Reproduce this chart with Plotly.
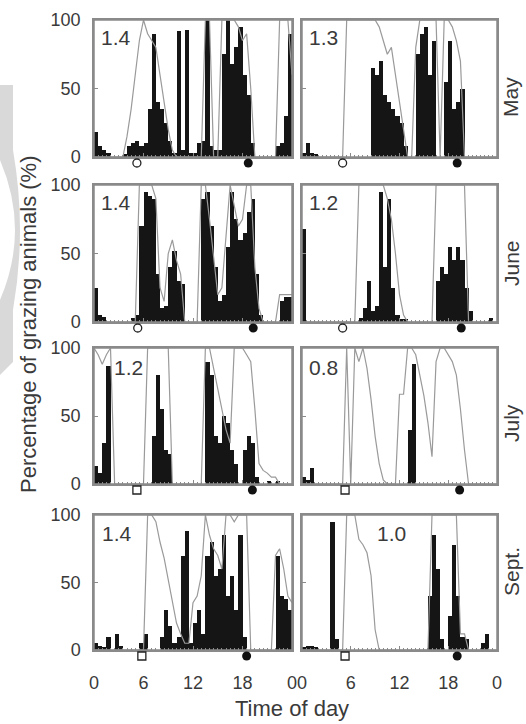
import plotly.graph_objects as go

# ---------------- data ----------------
bin_hours = [i * 0.5 + 0.25 for i in range(48)]   # half-hour bins
line_hours = [i * 0.5 for i in range(49)]          # half-hour points 0..24

months = ["May", "June", "July", "Sept."]
panel_numbers = ["1.4", "1.3", "1.4", "1.2", "1.2", "0.8", "1.4", "1.0"]
sunrise = [5.2, 5.0, 5.3, 5.0, 5.2, 5.3, 5.8, 5.3]
sunset = [18.7, 19.1, 19.3, 19.6, 19.2, 19.4, 18.5, 19.1]
x_tick_labels = ["0", "6", "12", "18", "0"]
y_tick_values = [0, 50, 100]

may_left_black = [18, 8, 5, 3, 0, 0, 0, 2, 8, 10, 12, 8, 10, 35, 90, 40, 35, 25, 12, 3,
                  92, 5, 93, 3, 3, 10, 12, 100, 8, 5, 5, 75, 100, 68, 80, 95, 60, 45, 10, 0,
                  0, 0, 0, 0, 8, 10, 30, 90]
may_left_gray = [0, 0, 0, 0, 0, 0, 0, 0, 15, 35, 60, 85, 100, 90, 85, 80, 60, 40, 20, 5,
                 0, 0, 0, 0, 0, 0, 0, 100, 100, 0, 0, 100, 100, 100, 100, 95, 85, 90, 50, 0,
                 0, 0, 0, 0, 0, 100, 100, 100, 60]

may_right_black = [3, 10, 3, 2, 0, 0, 0, 0, 0, 0, 0, 0, 0, 0, 0, 0, 0,
                   65, 60, 70, 45, 40, 35, 30, 25, 8, 0, 0,
                   75, 90, 95, 60, 85, 0, 0, 55, 85, 35, 40, 50,
                   0, 0, 0, 0, 0, 0, 0, 0]
may_right_gray = [0, 0, 0, 0, 0, 0, 0, 0, 0, 0, 0,
                  100, 100, 100, 100, 100, 100, 100, 100,
                  95, 85, 75, 80, 60, 40, 20, 0, 0,
                  80, 100, 100, 100, 100, 100, 0, 100, 100, 95, 85, 70,
                  0, 0, 0, 0, 0, 0, 0, 0, 0]

june_left_black = [25, 5, 4, 0, 0, 0, 0, 0, 0,
                   3, 5, 70, 95, 92, 90, 35, 10, 12, 40, 52, 30, 28,
                   0, 0, 0, 0,
                   90, 95, 70, 40, 15, 20, 55, 95, 75, 60, 65, 80, 90, 35,
                   5, 0, 0, 0, 0, 15, 18, 18]
june_left_gray = [0, 0, 0, 0, 0, 0, 0, 0, 0, 0, 0,
                  100, 100, 100, 100, 90, 25, 15, 50, 60, 45, 35,
                  0, 0, 0, 0,
                  100, 100, 75, 45, 20, 25, 65, 100, 85, 70, 75, 100, 100, 40, 10,
                  0, 0, 0, 0, 20, 20, 20, 20]

june_right_black = [68, 0, 0, 0, 0, 0, 0, 0, 0, 0, 0, 0, 0, 0,
                    3, 10, 30, 8, 12, 95, 40, 90, 25, 5, 2, 2,
                    0, 0, 0, 0, 0, 0, 0,
                    30, 40, 35, 55, 45, 55, 45, 25, 8,
                    0, 0, 0, 0, 3, 0]
june_right_gray = [0, 0, 0, 0, 0, 0, 0, 0, 0, 0, 0, 0, 0, 0,
                   100, 100, 100, 100, 100, 100, 100, 90, 75, 50, 20, 5,
                   0, 0, 0, 0, 0, 0, 0,
                   100, 100, 100, 100, 100, 100, 100, 100,
                   0, 0, 0, 0, 0, 0, 0, 0]

july_left_black = [13, 8, 30, 87, 0, 0, 0, 0, 0, 0, 0, 0, 0, 0,
                   35, 80, 55, 25, 22, 0, 0, 0, 0, 0, 0, 0, 0,
                   90, 80, 35, 30, 50, 45, 25, 15, 0, 25, 35, 30, 5,
                   0, 0, 2, 0, 2, 0, 0, 0]
july_left_gray = [100, 95, 88, 95, 100, 0, 0, 0, 0, 0, 0, 0, 0,
                  100, 100, 100, 100, 100, 100, 0, 0, 0, 0, 0, 0, 0, 0,
                  100, 100, 85, 70, 55, 40, 30,
                  100, 100, 100, 95, 90, 55, 15, 10, 8, 5, 5,
                  0, 0, 0, 0]

july_right_black = [5, 3, 12, 0] + [0] * 22 + [40, 88] + [0] * 20
july_right_gray = [0, 0, 0, 0, 0, 0, 0, 0, 0, 0, 0,
                   100, 0, 100, 90, 100, 85, 62, 35, 15, 3,
                   0, 0, 0,
                   66, 66, 100, 100, 95, 80, 65, 45, 20, 90, 100, 100, 95, 90, 80, 55, 25,
                   0, 0, 0, 0, 0, 0, 0, 0]

sept_left_black = [5, 3, 2, 10, 0, 12, 3, 0, 0, 0, 0, 5, 12, 0, 0, 0,
                   10, 30, 18, 5, 10, 70, 88, 5, 20, 30, 12, 70, 80, 55, 60, 85, 40, 55, 30, 85, 10,
                   0, 0, 0, 0, 0, 0, 0,
                   70, 40, 38, 30]
sept_left_gray = [0, 0, 0, 0, 0, 0, 0, 0, 0, 0, 0, 0, 0,
                  100, 100, 95, 80, 68, 52, 35, 20, 12, 5, 5,
                  35, 40, 55, 100, 85, 75, 70, 60, 100, 100, 95, 100, 100, 100,
                  0, 0, 0, 0, 0, 0,
                  70, 75, 60, 40, 35]

sept_right_black = [2, 3, 3, 2, 0, 0, 0, 95, 8] + [0] * 22 + \
                   [40, 85, 60, 8, 0, 25, 78, 40, 10, 8, 0, 0, 0, 5, 12, 0, 0]
sept_right_gray = [0, 0, 0, 0, 0, 0, 0, 0, 0, 0, 0,
                   100, 100, 100, 82, 78, 72, 55, 15,
                   0, 0, 0, 0, 0, 0, 0, 0, 0, 0, 0, 0, 0,
                   100, 100, 100, 100, 100, 100, 100, 12, 12,
                   0, 0, 0, 0, 0, 0, 0, 0]

black_series = [may_left_black, may_right_black, june_left_black, june_right_black,
                july_left_black, july_right_black, sept_left_black, sept_right_black]
gray_series = [may_left_gray, may_right_gray, june_left_gray, june_right_gray,
               july_left_gray, july_right_gray, sept_left_gray, sept_right_gray]
for b, g in zip(black_series, gray_series):
    assert len(b) == 48 and len(g) == 49, (len(b), len(g))

# ---------------- layout geometry ----------------
W, H = 526, 724
col_px = [(94, 292), (302, 497)]
row_px = [(20, 157), (185, 322), (348, 484), (515, 650)]
label_pos = [(0.6, 87), (0.6, 87), (0.6, 87), (0.6, 87),
             (2.2, 86), (0.6, 86), (0.7, 86), (9.0, 86)]
month_label_x = 511
month_label_y = [97, 263, 423, 572]

FONT = "Liberation Sans, Arial, sans-serif"
TXT = "#3a3a3a"
FRAME = "#8a8a8a"

fig = go.Figure()
layout = dict(width=W, height=H, margin=dict(l=0, r=0, t=0, b=0, autoexpand=False),
              paper_bgcolor="white", plot_bgcolor="rgba(0,0,0,0)", showlegend=False,
              bargap=0, font=dict(family=FONT, color=TXT))
annotations = []
shapes = []


def px(x, y):
    return f"{x / W:.5f},{1 - y / H:.5f}"


# faint grey backdrop at the left page edge (present in the reference image)
shapes.append(dict(
    type="path", xref="paper", yref="paper", layer="below", line=dict(width=0),
    fillcolor="#d9d9d9",
    path=(f"M{px(0, 85)} L{px(13, 85)} L{px(13, 150)} Q{px(27, 230)} {px(13, 310)} "
          f"L{px(13, 362)} L{px(0, 375)} L{px(0, 300)} Q{px(30, 230)} {px(0, 160)} Z")))

for k in range(8):
    row, col = divmod(k, 2)
    ax = "" if k == 0 else str(k + 1)
    xname, yname = "x" + ax, "y" + ax
    mname = "y" + str(k + 9)
    x0, x1 = col_px[col]
    y0, y1 = row_px[row]
    layout["xaxis" + ax] = dict(
        domain=[x0 / W, x1 / W], range=[0, 24], anchor=yname, automargin=False,
        showline=True, linecolor=FRAME, linewidth=1.5, mirror=True,
        showgrid=False, zeroline=False,
        tickmode="linear", tick0=0, dtick=6, labelalias={24: x_tick_labels[-1]},
        ticks="inside", ticklen=4, tickcolor=FRAME, tickwidth=1,
        minor=dict(ticks="inside", tickmode="linear", tick0=0, dtick=0.5,
                   ticklen=2, tickcolor=FRAME, showgrid=False),
        showticklabels=(row == 3), tickfont=dict(size=18, color=TXT, family=FONT),
        ticklabelstandoff=16,
    )
    layout["yaxis" + ax] = dict(
        domain=[1 - y1 / H, 1 - y0 / H], range=[0, 100], anchor=xname, automargin=False,
        showline=True, linecolor=FRAME, linewidth=1.5, mirror=True,
        showgrid=False, zeroline=False,
        tickmode="array", tickvals=y_tick_values,
        ticks="inside", ticklen=4, tickcolor=FRAME,
        showticklabels=(col == 0), tickfont=dict(size=18, color=TXT, family=FONT),
        ticklabelstandoff=8,
    )
    # thin invisible strip just below each panel (no overlap) for sunrise / sunset symbols
    layout["yaxis" + str(k + 9)] = dict(
        domain=[1 - (y1 + 11.5) / H, 1 - (y1 + 0.5) / H], range=[0, 1], anchor=xname,
        visible=False, automargin=False, fixedrange=True)
    # panel frame
    shapes.append(dict(type="rect", xref=xname + " domain", yref=yname + " domain",
                       x0=0, x1=1, y0=0, y1=1, line=dict(color=FRAME, width=1.5),
                       fillcolor="rgba(0,0,0,0)", layer="above"))

    fig.add_trace(go.Bar(x=bin_hours, y=black_series[k], width=0.5,
                         marker=dict(color="#151515", line=dict(width=0)),
                         xaxis=xname, yaxis=yname, hoverinfo="skip"))
    fig.add_trace(go.Scatter(x=line_hours, y=gray_series[k], mode="lines",
                             line=dict(color="#9a9a9a", width=1.2),
                             xaxis=xname, yaxis=yname, hoverinfo="skip"))
    open_sym = "circle-open" if row < 2 else "square-open"
    fig.add_trace(go.Scatter(x=[sunrise[k]], y=[0.5], mode="markers",
                             marker=dict(symbol=open_sym, size=8, color="#222",
                                         line=dict(width=1.3, color="#222")),
                             cliponaxis=False, xaxis=xname, yaxis=mname))
    fig.add_trace(go.Scatter(x=[sunset[k]], y=[0.5], mode="markers",
                             marker=dict(symbol="circle", size=9, color="#111"),
                             cliponaxis=False, xaxis=xname, yaxis=mname))
    lx, ly = label_pos[k]
    annotations.append(dict(x=lx, y=ly, xref=xname, yref=yname, text=panel_numbers[k],
                            showarrow=False, xanchor="left", yanchor="middle",
                            font=dict(size=21, color=TXT, family=FONT)))

for r, m in enumerate(months):
    annotations.append(dict(x=month_label_x / W, y=1 - month_label_y[r] / H,
                            xref="paper", yref="paper",
                            text=m, showarrow=False, textangle=-90,
                            xanchor="center", yanchor="middle",
                            font=dict(size=21, color=TXT, family=FONT)))

annotations.append(dict(x=28 / W, y=1 - 324 / H, xref="paper", yref="paper",
                        text="Percentage of grazing animals (%)", showarrow=False,
                        textangle=-90, xanchor="center", yanchor="middle",
                        font=dict(size=22, color=TXT, family=FONT)))
annotations.append(dict(x=292 / W, y=1 - 708 / H, xref="paper", yref="paper",
                        text="Time of day", showarrow=False,
                        xanchor="center", yanchor="middle",
                        font=dict(size=22, color=TXT, family=FONT)))

layout["annotations"] = annotations
layout["shapes"] = shapes
fig.update_layout(**layout)
fig.write_html("out.html", config={"displayModeBar": False},
               post_script="document.body.style.margin='0px';document.body.style.padding='0px';")
